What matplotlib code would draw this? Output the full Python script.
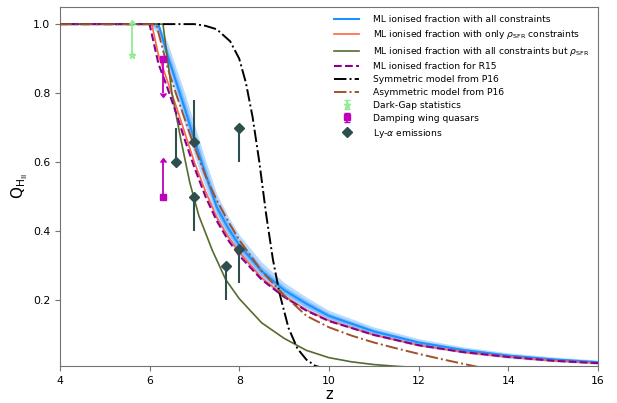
import matplotlib
matplotlib.use("Agg")
import numpy as np
import matplotlib.pyplot as plt

# ML reconstruction (all constraints) with 68% / 95% bands
z_ml = [4.0, 6.0, 6.2, 6.4, 6.6, 6.8, 7.0, 7.25, 7.5, 7.75, 8.0, 8.5, 9.0, 9.5,
        10.0, 11.0, 12.0, 13.0, 14.0, 15.0, 16.0]
q_ml = [1.0, 1.0, 1.0, 0.91, 0.83, 0.75, 0.665, 0.565, 0.47, 0.41, 0.36, 0.285,
        0.23, 0.19, 0.155, 0.11, 0.078, 0.056, 0.040, 0.029, 0.021]
q_ml_hi95 = [1.0, 1.0, 1.0, 0.948, 0.871, 0.795, 0.71, 0.606, 0.508, 0.444, 0.39,
             0.311, 0.252, 0.209, 0.171, 0.123, 0.089, 0.065, 0.048, 0.036, 0.027]
q_ml_lo95 = [1.0, 1.0, 0.97, 0.872, 0.789, 0.705, 0.62, 0.524, 0.432, 0.376, 0.33,
             0.259, 0.208, 0.171, 0.139, 0.097, 0.067, 0.047, 0.032, 0.022, 0.015]
q_ml_hi68 = [1.0, 1.0, 1.0, 0.929, 0.851, 0.773, 0.688, 0.586, 0.489, 0.427, 0.375,
             0.298, 0.241, 0.20, 0.163, 0.117, 0.0835, 0.061, 0.044, 0.0325, 0.024]
q_ml_lo68 = [1.0, 1.0, 0.985, 0.891, 0.809, 0.727, 0.642, 0.544, 0.451, 0.393, 0.345,
             0.272, 0.219, 0.18, 0.147, 0.103, 0.0725, 0.051, 0.036, 0.0255, 0.018]

# ML with only rho_SFR constraints
z_sfr = [4.0, 6.05, 6.2, 6.4, 6.6, 6.8, 7.0, 7.25, 7.5, 7.75, 8.0, 8.5, 9.0, 9.5,
         10.0, 11.0, 12.0, 13.0, 14.0, 15.0, 16.0]
q_sfr = [1.0, 1.0, 0.91, 0.835, 0.76, 0.68, 0.60, 0.515, 0.44, 0.385, 0.34, 0.265,
         0.213, 0.172, 0.142, 0.10, 0.07, 0.05, 0.036, 0.025, 0.018]

# ML with all constraints but rho_SFR
z_nosfr = [4.0, 6.3, 6.5, 6.7, 6.9, 7.1, 7.4, 7.7, 8.0, 8.5, 9.0, 9.5, 10.0, 10.5,
           11.0, 11.5, 12.0, 13.0, 16.0]
q_nosfr = [1.0, 1.0, 0.80, 0.665, 0.54, 0.445, 0.345, 0.26, 0.205, 0.135, 0.09,
           0.055, 0.034, 0.022, 0.014, 0.009, 0.005, 0.002, 0.0]

# ML for R15
z_r15 = [4.0, 6.0, 6.2, 6.4, 6.6, 6.8, 7.0, 7.25, 7.5, 7.75, 8.0, 8.5, 9.0, 9.5,
         10.0, 11.0, 12.0, 13.0, 14.0, 15.0, 16.0]
q_r15 = [1.0, 1.0, 0.885, 0.815, 0.74, 0.66, 0.585, 0.50, 0.43, 0.375, 0.33, 0.26,
         0.21, 0.17, 0.14, 0.10, 0.07, 0.05, 0.036, 0.025, 0.018]

# P16 symmetric and asymmetric models
z_sym = [4.0, 7.0, 7.25, 7.5, 7.8, 8.0, 8.15, 8.3, 8.45, 8.6, 8.75, 8.9, 9.1, 9.3,
         9.5, 9.7, 10.0]
q_sym = [1.0, 1.0, 0.995, 0.985, 0.95, 0.90, 0.83, 0.73, 0.60, 0.45, 0.32,
         0.22, 0.12, 0.06, 0.028, 0.01, 0.0]
z_asym = [4.0, 6.15, 6.4, 6.6, 6.8, 7.0, 7.25, 7.5, 7.75, 8.0, 8.5, 9.0, 9.5, 10.0,
          10.5, 11.0, 11.5, 12.0, 12.5, 13.0, 13.4]
q_asym = [1.0, 1.0, 0.875, 0.795, 0.72, 0.645, 0.56, 0.49, 0.43, 0.375, 0.285,
          0.215, 0.155, 0.122, 0.098, 0.078, 0.061, 0.045, 0.03, 0.016, 0.005]

# observational constraints
dg_z = [5.6]
dg_q = [0.91]
dg_err = [0.09]

dw_z = [6.3, 6.3]
dw_q = [0.9, 0.5]
dw_err = [0.1, 0.1]
dw_upper = [True, False]

lya_z = [6.6, 7.0, 7.0, 7.7, 8.0, 8.0]
lya_q = [0.6, 0.66, 0.5, 0.3, 0.35, 0.7]
lya_err_lo = [0.0, 0.0, 0.1, 0.1, 0.1, 0.1]
lya_err_hi = [0.1, 0.12, 0.0, 0.0, 0.0, 0.0]


def main():
    fig = plt.figure(figsize=(6.17, 4.03), dpi=100)
    ax = fig.add_axes([0.097, 0.092, 0.872, 0.891])

    ax.fill_between(z_ml, q_ml_lo95, q_ml_hi95, color="#b8dbff", lw=0, zorder=1)
    ax.fill_between(z_ml, q_ml_lo68, q_ml_hi68, color="#80bfff", lw=0, zorder=1)
    l_ml, = ax.plot(z_ml, q_ml, color="dodgerblue", lw=1.5, zorder=2,
                    label="ML ionised fraction with all constraints")
    l_sfr, = ax.plot(z_sfr, q_sfr, color="tomato", lw=1.2, zorder=3,
                     label=r"ML ionised fraction with only $\rho_{\rm SFR}$ constraints")
    l_nosfr, = ax.plot(z_nosfr, q_nosfr, color="darkolivegreen", lw=1.2, zorder=3,
                       label=r"ML ionised fraction with all constraints but $\rho_{\rm SFR}$")
    l_r15, = ax.plot(z_r15, q_r15, color="darkmagenta", lw=1.5, ls="--", zorder=4,
                     label="ML ionised fraction for R15")
    l_sym, = ax.plot(z_sym, q_sym, color="black", lw=1.4, ls="-.", zorder=5,
                     label="Symmetric model from P16")
    l_asym, = ax.plot(z_asym, q_asym, color="sienna", lw=1.4, ls="-.", zorder=5,
                      label="Asymmetric model from P16")

    e_dg = ax.errorbar(dg_z, dg_q, yerr=dg_err, lolims=True, fmt="*",
                       color="lightgreen", ms=5, lw=1.3, capsize=2, zorder=6,
                       label="Dark-Gap statistics")

    e_dw = None
    for z, q, err, up in zip(dw_z, dw_q, dw_err, dw_upper):
        e = ax.errorbar([z], [q], yerr=[err], uplims=up, lolims=not up, fmt="s",
                        color="m", ms=5, lw=1.3, capsize=2, zorder=6,
                        label="Damping wing quasars")
        if e_dw is None:
            e_dw = e

    ax.errorbar(lya_z, lya_q, yerr=[lya_err_lo, lya_err_hi], fmt="none",
                ecolor="darkslategray", lw=1.5, zorder=6)
    l_lya, = ax.plot(lya_z, lya_q, "D", color="darkslategray", ms=5.5, zorder=7,
                     label=r"Ly-$\alpha$ emissions")

    handles = [l_ml, l_sfr, l_nosfr, l_r15, l_sym, l_asym, e_dg, e_dw, l_lya]
    ax.legend(handles=handles, labels=[h.get_label() for h in handles],
              loc="upper right", frameon=False, fontsize=6.6,
              handlelength=2.8, handletextpad=1.5, labelspacing=0.43)

    ax.set_xlim(4, 16)
    ax.set_ylim(0.01, 1.05)
    ax.set_xticks([4, 6, 8, 10, 12, 14, 16])
    ax.set_yticks([0.2, 0.4, 0.6, 0.8, 1.0])
    ax.tick_params(labelsize=7.8, color="0.45")
    for sp in ax.spines.values():
        sp.set_color("0.45")
    ax.set_xlabel("z", fontsize=10.5, labelpad=1)
    ax.set_ylabel(r"Q$_{\mathrm{H_{II}}}$", fontsize=11, labelpad=2)

    fig.savefig("out.png", dpi=100)
    plt.close(fig)


if __name__ == "__main__":
    main()
